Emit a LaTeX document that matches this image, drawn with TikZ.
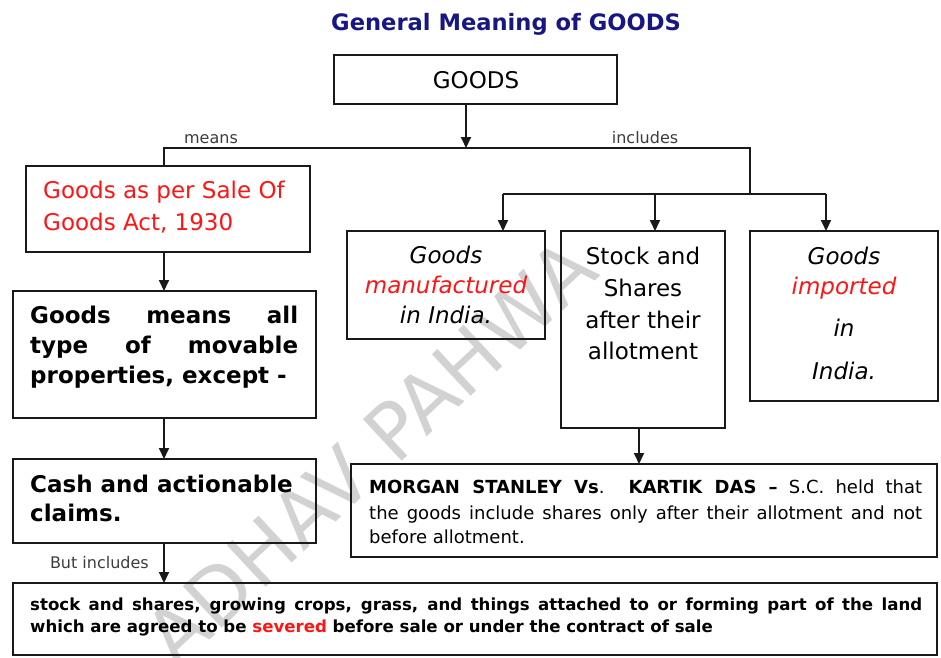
\documentclass[tikz,border=0pt]{standalone}
\usepackage{fontspec}
\setmainfont{DejaVu Sans}
\usetikzlibrary{arrows.meta}
\definecolor{titleblue}{RGB}{24,22,130}
\definecolor{hired}{RGB}{255,20,20}
\definecolor{labelgray}{RGB}{60,60,60}
\definecolor{markgray}{RGB}{210,210,210}
\newcommand\setsz[1]{\fontsize{#1}{#1}\selectfont}
\newcommand\jline[2]{\makebox[#1][s]{#2}}

\begin{document}
\begin{tikzpicture}[x=1pt,y=-1pt,
  box/.style={draw=black!90, line width=2pt, inner sep=0pt, outer sep=0pt},
  conn/.style={line width=1.8pt, draw=black!90},
  arr/.style={conn, -{Triangle[length=11pt,width=10pt]}},
  txt/.style={inner sep=0pt, anchor=base west},
  ctr/.style={inner sep=0pt, anchor=base},
  lbl/.style={inner sep=0pt, anchor=base, text=labelgray, font=\setsz{16}},
  big/.style={font=\setsz{23}},
  bigb/.style={font=\setsz{23}\bfseries},
  bigi/.style={font=\setsz{23}\itshape},
]
\useasboundingbox (0,0) rectangle (941,657);

% watermark behind everything
\node[rotate=43, inner sep=0pt, text=markgray, font=\setsz{78}] (mark) at (370,452) {ADHAV PAHWA};

% title
\node[ctr, text=titleblue, font=\setsz{22.6}\bfseries] (title) at (506,30) {General Meaning of GOODS};

% boxes
\node[box, minimum width=283pt, minimum height=49pt]  (goods)  at (475.5,79.5) {};
\node[box, minimum width=284pt, minimum height=86pt]  (sale)   at (168,209) {};
\node[box, minimum width=303pt, minimum height=127pt] (means)  at (164.5,354.5) {};
\node[box, minimum width=303pt, minimum height=84pt]  (cash)   at (164.5,501) {};
\node[box, minimum width=924pt, minimum height=72pt]  (land)   at (475,619) {};
\node[box, minimum width=198pt, minimum height=108pt] (manu)   at (446,285) {};
\node[box, minimum width=164pt, minimum height=197pt] (stock)  at (643,329.5) {};
\node[box, minimum width=188pt, minimum height=170pt] (imp)    at (844,316) {};
\node[box, minimum width=586pt, minimum height=93pt]  (morgan) at (644,510.5) {};

% junction points of the tree
\coordinate (hub) at (466,148);
\coordinate (jl)  at (164,148);
\coordinate (jr)  at (750,148);
\coordinate (jd)  at (750,194);
\coordinate (bl)  at (503,194);
\coordinate (bm)  at (655,194);
\coordinate (br)  at (826,194);

% connectors
\draw[arr] (goods.south -| hub) -- (hub);
\draw[conn] (sale.north -| jl) -- (jl) -- (jr) -- (jd);
\draw[conn] (bl) -- (br);
\draw[arr] (bl) -- (bl |- manu.north);
\draw[arr] (bm) -- (bm |- stock.north);
\draw[arr] (br) -- (br |- imp.north);
\draw[arr] (sale.south -| jl) -- (jl |- means.north);
\draw[arr] (means.south -| jl) -- (jl |- cash.north);
\draw[arr] (cash.south -| jl) -- (jl |- land.north);
\draw[arr] ([xshift=-4pt]stock.south) -- ([xshift=-4pt]stock.south |- morgan.north);

% labels on connectors
\node[lbl] (lmeans) at (211,143) {means};
\node[lbl] (lincl)  at (645,143) {includes};
\node[lbl, anchor=base east] (lbut) at (149,568) {But includes};

% box texts
\node[ctr, big] (tgoods) at (476,88) {GOODS};

\node[txt, big, text=hired] (s1) at (43,198) {Goods as per Sale Of};
\node[txt, big, text=hired] (s2) at (43,230) {Goods Act, 1930};

\node[txt, bigb] (m1) at (30,323) {\jline{268pt}{Goods means all}};
\node[txt, bigb] (m2) at (30,353) {\jline{268pt}{type of movable}};
\node[txt, bigb] (m3) at (30,383) {properties, except -};

\node[txt, bigb] (c1) at (30,492) {Cash and actionable};
\node[txt, bigb] (c2) at (30,521) {claims.};

\node[ctr, bigi] (u1) at (446,263) {Goods};
\node[ctr, bigi, text=hired] (u2) at (446,293) {manufactured};
\node[ctr, bigi] (u3) at (446,323) {in India.};

\node[ctr, big] (k1) at (643,264) {Stock and};
\node[ctr, big] (k2) at (643,296) {Shares};
\node[ctr, big] (k3) at (643,328) {after their};
\node[ctr, big] (k4) at (643,359) {allotment};

\node[ctr, bigi] (i1) at (844,264) {Goods};
\node[ctr, bigi, text=hired] (i2) at (844,294) {imported};
\node[ctr, bigi] (i3) at (844,336) {in};
\node[ctr, bigi] (i4) at (844,379) {India.};

\node[txt, font=\setsz{18}] (g1) at (369,493)
  {\jline{553pt}{\textbf{MORGAN STANLEY Vs}. \textbf{KARTIK DAS --} S.C. held that}};
\node[txt, font=\setsz{18}] (g2) at (369,519)
  {\jline{553pt}{the goods include shares only after their allotment and not}};
\node[txt, font=\setsz{18}] (g3) at (369,543) {before allotment.};

\node[txt, font=\setsz{16.6}\bfseries] (l1) at (30,610)
  {\jline{892pt}{stock and shares, growing crops, grass, and things attached to or forming part of the land}};
\node[txt, font=\setsz{16.6}\bfseries] (l2) at (30,632)
  {which are agreed to be \textcolor{hired}{severed} before sale or under the contract of sale};
\end{tikzpicture}
\end{document}
